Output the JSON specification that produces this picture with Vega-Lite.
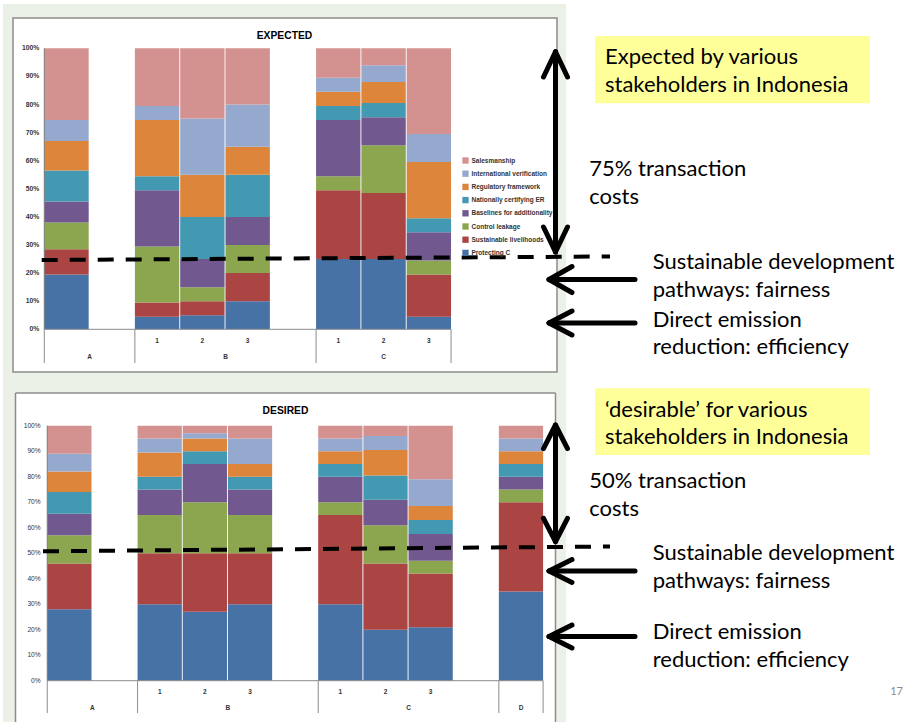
{
  "$schema": "https://vega.github.io/schema/vega-lite/v6.json",
  "width": 905,
  "height": 722,
  "autosize": {"type": "none"},
  "padding": 0,
  "background": "white",
  "config": {"view": {"stroke": null}, "text": {"font": "Lato"}},
  "datasets": {
    "exp": [
      {"s":"A","k":1,"c":"Protecting C","v":19.5},{"s":"A","k":2,"c":"Sustainable livelihoods","v":9},{"s":"A","k":3,"c":"Control leakage","v":9.5},{"s":"A","k":4,"c":"Baselines for additionality","v":7.5},{"s":"A","k":5,"c":"Nationally certifying ER","v":11},{"s":"A","k":6,"c":"Regulatory framework","v":10.5},{"s":"A","k":7,"c":"International verification","v":7.5},{"s":"A","k":8,"c":"Salesmanship","v":25.5},
      {"s":"B1","k":1,"c":"Protecting C","v":4.5},{"s":"B1","k":2,"c":"Sustainable livelihoods","v":5},{"s":"B1","k":3,"c":"Control leakage","v":20},{"s":"B1","k":4,"c":"Baselines for additionality","v":20},{"s":"B1","k":5,"c":"Nationally certifying ER","v":5},{"s":"B1","k":6,"c":"Regulatory framework","v":20},{"s":"B1","k":7,"c":"International verification","v":5},{"s":"B1","k":8,"c":"Salesmanship","v":20.5},
      {"s":"B2","k":1,"c":"Protecting C","v":5},{"s":"B2","k":2,"c":"Sustainable livelihoods","v":5},{"s":"B2","k":3,"c":"Control leakage","v":5},{"s":"B2","k":4,"c":"Baselines for additionality","v":10},{"s":"B2","k":5,"c":"Nationally certifying ER","v":15},{"s":"B2","k":6,"c":"Regulatory framework","v":15},{"s":"B2","k":7,"c":"International verification","v":20},{"s":"B2","k":8,"c":"Salesmanship","v":25},
      {"s":"B3","k":1,"c":"Protecting C","v":10},{"s":"B3","k":2,"c":"Sustainable livelihoods","v":10},{"s":"B3","k":3,"c":"Control leakage","v":10},{"s":"B3","k":4,"c":"Baselines for additionality","v":10},{"s":"B3","k":5,"c":"Nationally certifying ER","v":15},{"s":"B3","k":6,"c":"Regulatory framework","v":10},{"s":"B3","k":7,"c":"International verification","v":15},{"s":"B3","k":8,"c":"Salesmanship","v":20},
      {"s":"C1","k":1,"c":"Protecting C","v":25},{"s":"C1","k":2,"c":"Sustainable livelihoods","v":24.5},{"s":"C1","k":3,"c":"Control leakage","v":5},{"s":"C1","k":4,"c":"Baselines for additionality","v":20},{"s":"C1","k":5,"c":"Nationally certifying ER","v":5},{"s":"C1","k":6,"c":"Regulatory framework","v":5},{"s":"C1","k":7,"c":"International verification","v":5},{"s":"C1","k":8,"c":"Salesmanship","v":10.5},
      {"s":"C2","k":1,"c":"Protecting C","v":25},{"s":"C2","k":2,"c":"Sustainable livelihoods","v":23.5},{"s":"C2","k":3,"c":"Control leakage","v":17},{"s":"C2","k":4,"c":"Baselines for additionality","v":10},{"s":"C2","k":5,"c":"Nationally certifying ER","v":5},{"s":"C2","k":6,"c":"Regulatory framework","v":7.5},{"s":"C2","k":7,"c":"International verification","v":6},{"s":"C2","k":8,"c":"Salesmanship","v":6},
      {"s":"C3","k":1,"c":"Protecting C","v":4.5},{"s":"C3","k":2,"c":"Sustainable livelihoods","v":15},{"s":"C3","k":3,"c":"Control leakage","v":5},{"s":"C3","k":4,"c":"Baselines for additionality","v":10},{"s":"C3","k":5,"c":"Nationally certifying ER","v":5},{"s":"C3","k":6,"c":"Regulatory framework","v":20},{"s":"C3","k":7,"c":"International verification","v":10},{"s":"C3","k":8,"c":"Salesmanship","v":30.5}
    ],
    "des": [
      {"s":"A","k":1,"c":"Protecting C","v":28},{"s":"A","k":2,"c":"Sustainable livelihoods","v":18},{"s":"A","k":3,"c":"Control leakage","v":11},{"s":"A","k":4,"c":"Baselines for additionality","v":8.5},{"s":"A","k":5,"c":"Nationally certifying ER","v":8.5},{"s":"A","k":6,"c":"Regulatory framework","v":8},{"s":"A","k":7,"c":"International verification","v":7},{"s":"A","k":8,"c":"Salesmanship","v":11},
      {"s":"B1","k":1,"c":"Protecting C","v":30},{"s":"B1","k":2,"c":"Sustainable livelihoods","v":20},{"s":"B1","k":3,"c":"Control leakage","v":15},{"s":"B1","k":4,"c":"Baselines for additionality","v":10},{"s":"B1","k":5,"c":"Nationally certifying ER","v":5},{"s":"B1","k":6,"c":"Regulatory framework","v":9.5},{"s":"B1","k":7,"c":"International verification","v":5.5},{"s":"B1","k":8,"c":"Salesmanship","v":5},
      {"s":"B2","k":1,"c":"Protecting C","v":27},{"s":"B2","k":2,"c":"Sustainable livelihoods","v":23},{"s":"B2","k":3,"c":"Control leakage","v":20},{"s":"B2","k":4,"c":"Baselines for additionality","v":15},{"s":"B2","k":5,"c":"Nationally certifying ER","v":5},{"s":"B2","k":6,"c":"Regulatory framework","v":5},{"s":"B2","k":7,"c":"International verification","v":2},{"s":"B2","k":8,"c":"Salesmanship","v":3},
      {"s":"B3","k":1,"c":"Protecting C","v":30},{"s":"B3","k":2,"c":"Sustainable livelihoods","v":20},{"s":"B3","k":3,"c":"Control leakage","v":15},{"s":"B3","k":4,"c":"Baselines for additionality","v":10},{"s":"B3","k":5,"c":"Nationally certifying ER","v":5},{"s":"B3","k":6,"c":"Regulatory framework","v":5},{"s":"B3","k":7,"c":"International verification","v":10},{"s":"B3","k":8,"c":"Salesmanship","v":5},
      {"s":"C1","k":1,"c":"Protecting C","v":30},{"s":"C1","k":2,"c":"Sustainable livelihoods","v":35},{"s":"C1","k":3,"c":"Control leakage","v":5},{"s":"C1","k":4,"c":"Baselines for additionality","v":10},{"s":"C1","k":5,"c":"Nationally certifying ER","v":5},{"s":"C1","k":6,"c":"Regulatory framework","v":5},{"s":"C1","k":7,"c":"International verification","v":5},{"s":"C1","k":8,"c":"Salesmanship","v":5},
      {"s":"C2","k":1,"c":"Protecting C","v":20},{"s":"C2","k":2,"c":"Sustainable livelihoods","v":26},{"s":"C2","k":3,"c":"Control leakage","v":15},{"s":"C2","k":4,"c":"Baselines for additionality","v":10},{"s":"C2","k":5,"c":"Nationally certifying ER","v":9.5},{"s":"C2","k":6,"c":"Regulatory framework","v":10},{"s":"C2","k":7,"c":"International verification","v":5.5},{"s":"C2","k":8,"c":"Salesmanship","v":4},
      {"s":"C3","k":1,"c":"Protecting C","v":21},{"s":"C3","k":2,"c":"Sustainable livelihoods","v":21},{"s":"C3","k":3,"c":"Control leakage","v":5},{"s":"C3","k":4,"c":"Baselines for additionality","v":10.5},{"s":"C3","k":5,"c":"Nationally certifying ER","v":5.5},{"s":"C3","k":6,"c":"Regulatory framework","v":5.5},{"s":"C3","k":7,"c":"International verification","v":10.5},{"s":"C3","k":8,"c":"Salesmanship","v":21},
      {"s":"D","k":1,"c":"Protecting C","v":35},{"s":"D","k":2,"c":"Sustainable livelihoods","v":35},{"s":"D","k":3,"c":"Control leakage","v":5},{"s":"D","k":4,"c":"Baselines for additionality","v":5},{"s":"D","k":5,"c":"Nationally certifying ER","v":5},{"s":"D","k":6,"c":"Regulatory framework","v":5},{"s":"D","k":7,"c":"International verification","v":5},{"s":"D","k":8,"c":"Salesmanship","v":5}
    ],
    "ticks": [
      {"p":0,"t":"0%"},{"p":10,"t":"10%"},{"p":20,"t":"20%"},{"p":30,"t":"30%"},{"p":40,"t":"40%"},{"p":50,"t":"50%"},{"p":60,"t":"60%"},{"p":70,"t":"70%"},{"p":80,"t":"80%"},{"p":90,"t":"90%"},{"p":100,"t":"100%"}
    ],
    "subs": [
      {"s":"B1","t":"1"},{"s":"B2","t":"2"},{"s":"B3","t":"3"},{"s":"C1","t":"1"},{"s":"C2","t":"2"},{"s":"C3","t":"3"}
    ]
  },
  "resolve": {"scale": {"x": "independent", "y": "independent"}, "axis": {"x": "independent", "y": "independent"}},
  "layer": [
    {
      "data": {"values": [{}]},
      "layer": [
        {"mark": {"type": "rect", "fill": "#ECF1E7", "strokeWidth": 0},
         "encoding": {"x": {"datum": 0.00331, "type": "quantitative", "scale": {"domain": [0, 1], "nice": false, "zero": false}, "axis": null}, "x2": {"datum": 0.62541},
                      "y": {"datum": 115.77, "type": "quantitative", "scale": {"domain": [-139.751, 117.189], "nice": false, "zero": false}, "axis": null}, "y2": {"datum": -139.751}}},
        {"mark": {"type": "rect", "fill": "white", "stroke": "#8c8c8c", "strokeWidth": 1.5},
         "encoding": {"x": {"datum": 0.01436, "type": "quantitative", "scale": {"domain": [0, 1], "nice": false, "zero": false}, "axis": null}, "x2": {"datum": 0.61547},
                      "y": {"datum": 110.78, "type": "quantitative", "scale": {"domain": [-139.751, 117.189], "nice": false, "zero": false}, "axis": null}, "y2": {"datum": -15.2}}},
        {"mark": {"type": "rect", "fill": "white", "strokeWidth": 0},
         "encoding": {"x": {"datum": 0.01713, "type": "quantitative", "scale": {"domain": [0, 1], "nice": false, "zero": false}, "axis": null}, "x2": {"datum": 0.61381},
                      "y": {"datum": -22.67, "type": "quantitative", "scale": {"domain": [-139.751, 117.189], "nice": false, "zero": false}, "axis": null}, "y2": {"datum": -139.751}}},
        {"mark": {"type": "rule", "stroke": "#8c8c8c", "strokeWidth": 1.5},
         "encoding": {"x": {"datum": 0.01713, "type": "quantitative", "scale": {"domain": [0, 1], "nice": false, "zero": false}, "axis": null}, "x2": {"datum": 0.61381},
                      "y": {"datum": -22.67, "type": "quantitative", "scale": {"domain": [-139.751, 117.189], "nice": false, "zero": false}, "axis": null}}},
        {"mark": {"type": "rule", "stroke": "#8c8c8c", "strokeWidth": 1.5},
         "encoding": {"x": {"datum": 0.01713, "type": "quantitative", "scale": {"domain": [0, 1], "nice": false, "zero": false}, "axis": null},
                      "y": {"datum": -22.67, "type": "quantitative", "scale": {"domain": [-139.751, 117.189], "nice": false, "zero": false}, "axis": null}, "y2": {"datum": -139.751}}},
        {"mark": {"type": "rule", "stroke": "#8c8c8c", "strokeWidth": 1.5},
         "encoding": {"x": {"datum": 0.61381, "type": "quantitative", "scale": {"domain": [0, 1], "nice": false, "zero": false}, "axis": null},
                      "y": {"datum": -22.67, "type": "quantitative", "scale": {"domain": [-139.751, 117.189], "nice": false, "zero": false}, "axis": null}, "y2": {"datum": -139.751}}}
      ]
    },
    {
      "data": {"values": [{}]},
      "layer": [
        {"data": {"name": "exp"},
         "mark": {"type": "bar"},
         "encoding": {
           "x": {"field": "s", "type": "nominal", "scale": {"type": "band", "domain": ["A","A-","B1","B2","B3","B-","C1","C2","C3","r01","r02","r03","r04","r05","r06","r07","r08","r09","r10"], "paddingInner": 0.02, "paddingOuter": 0.5, "align": 0.978}, "axis": null},
           "y": {"field": "v", "type": "quantitative", "stack": "zero", "scale": {"domain": [-139.751, 117.189], "nice": false, "zero": false}, "axis": null},
           "color": {"field": "c", "type": "nominal",
                     "scale": {"domain": ["Salesmanship","International verification","Regulatory framework","Nationally certifying ER","Baselines for additionality","Control leakage","Sustainable livelihoods","Protecting C"],
                               "range": ["#D39290","#95A9CF","#DE853C","#4299B1","#71598F","#8BA64E","#AA4543","#4672A6"]},
                     "legend": {"orient": "none", "legendX": 462, "legendY": 157, "title": null, "symbolType": "square", "symbolSize": 40, "symbolStrokeWidth": 0, "labelFont": "Liberation Sans", "labelFontSize": 6.5, "labelFontWeight": "bold", "labelColor": "#333", "rowPadding": 6.2, "labelOffset": 2.5, "padding": 0}},
           "order": {"field": "k", "type": "quantitative"}
         }},
        {"mark": {"type": "rule", "stroke": "#7a7a7a", "strokeWidth": 1},
         "encoding": {"x": {"datum": "A", "type": "nominal", "bandPosition": 0, "scale": {"type": "band", "domain": ["A","A-","B1","B2","B3","B-","C1","C2","C3","r01","r02","r03","r04","r05","r06","r07","r08","r09","r10"], "paddingInner": 0.02, "paddingOuter": 0.5, "align": 0.978}, "axis": null},
                      "y": {"datum": 0, "type": "quantitative", "scale": {"domain": [-139.751, 117.189], "nice": false, "zero": false}, "axis": null}, "y2": {"datum": 100}}},
        {"mark": {"type": "rule", "stroke": "#8c8c8c", "strokeWidth": 1},
         "encoding": {"x": {"datum": "A", "type": "nominal", "bandPosition": 0, "scale": {"type": "band", "domain": ["A","A-","B1","B2","B3","B-","C1","C2","C3","r01","r02","r03","r04","r05","r06","r07","r08","r09","r10"], "paddingInner": 0.02, "paddingOuter": 0.5, "align": 0.978}, "axis": null},
                      "x2": {"datum": "C3", "bandPosition": 1},
                      "y": {"datum": 0, "type": "quantitative", "scale": {"domain": [-139.751, 117.189], "nice": false, "zero": false}, "axis": null}}},
        {"data": {"values": [{"s": "A"}, {"s": "B1"}, {"s": "C1"}]},
         "mark": {"type": "rule", "stroke": "#8c8c8c", "strokeWidth": 1},
         "encoding": {"x": {"field": "s", "type": "nominal", "bandPosition": 0, "scale": {"type": "band", "domain": ["A","A-","B1","B2","B3","B-","C1","C2","C3","r01","r02","r03","r04","r05","r06","r07","r08","r09","r10"], "paddingInner": 0.02, "paddingOuter": 0.5, "align": 0.978}, "axis": null},
                      "y": {"datum": 0, "type": "quantitative", "scale": {"domain": [-139.751, 117.189], "nice": false, "zero": false}, "axis": null}, "y2": {"datum": -12}}},
        {"mark": {"type": "rule", "stroke": "#8c8c8c", "strokeWidth": 1},
         "encoding": {"x": {"datum": "C3", "type": "nominal", "bandPosition": 1, "scale": {"type": "band", "domain": ["A","A-","B1","B2","B3","B-","C1","C2","C3","r01","r02","r03","r04","r05","r06","r07","r08","r09","r10"], "paddingInner": 0.02, "paddingOuter": 0.5, "align": 0.978}, "axis": null},
                      "y": {"datum": 0, "type": "quantitative", "scale": {"domain": [-139.751, 117.189], "nice": false, "zero": false}, "axis": null}, "y2": {"datum": -12}}},
        {"data": {"name": "ticks"},
         "mark": {"type": "text", "font": "Liberation Sans", "fontSize": 6.8, "fontWeight": "bold", "color": "#333", "baseline": "middle", "align": "right", "dx": -5},
         "encoding": {"text": {"field": "t"}, "x": {"datum": "A", "type": "nominal", "bandPosition": 0, "scale": {"type": "band", "domain": ["A","A-","B1","B2","B3","B-","C1","C2","C3","r01","r02","r03","r04","r05","r06","r07","r08","r09","r10"], "paddingInner": 0.02, "paddingOuter": 0.5, "align": 0.978}, "axis": null},
                      "y": {"field": "p", "type": "quantitative", "scale": {"domain": [-139.751, 117.189], "nice": false, "zero": false}, "axis": null}}},
        {"data": {"name": "subs"},
         "mark": {"type": "text", "font": "Liberation Sans", "fontSize": 6.5, "fontWeight": "bold", "color": "#333", "baseline": "middle", "align": "center"},
         "encoding": {"text": {"field": "t"}, "x": {"field": "s", "type": "nominal", "bandPosition": 0.5, "scale": {"type": "band", "domain": ["A","A-","B1","B2","B3","B-","C1","C2","C3","r01","r02","r03","r04","r05","r06","r07","r08","r09","r10"], "paddingInner": 0.02, "paddingOuter": 0.5, "align": 0.978}, "axis": null},
                      "y": {"datum": -4.06, "type": "quantitative", "scale": {"domain": [-139.751, 117.189], "nice": false, "zero": false}, "axis": null}}},
        {"data": {"values": [{"g": "A", "s": "A-"}, {"g": "B", "s": "B3"}]},
         "mark": {"type": "text", "font": "Liberation Sans", "fontSize": 6.5, "fontWeight": "bold", "color": "#333", "baseline": "middle", "align": "center"},
         "encoding": {"text": {"field": "g"}, "x": {"field": "s", "type": "nominal", "bandPosition": 0, "scale": {"type": "band", "domain": ["A","A-","B1","B2","B3","B-","C1","C2","C3","r01","r02","r03","r04","r05","r06","r07","r08","r09","r10"], "paddingInner": 0.02, "paddingOuter": 0.5, "align": 0.978}, "axis": null},
                      "y": {"datum": -9.75, "type": "quantitative", "scale": {"domain": [-139.751, 117.189], "nice": false, "zero": false}, "axis": null}}},
        {"data": {"values": [{"g": "C", "s": "C2"}]},
         "mark": {"type": "text", "font": "Liberation Sans", "fontSize": 6.5, "fontWeight": "bold", "color": "#333", "baseline": "middle", "align": "center"},
         "encoding": {"text": {"field": "g"}, "x": {"field": "s", "type": "nominal", "bandPosition": 0.5, "scale": {"type": "band", "domain": ["A","A-","B1","B2","B3","B-","C1","C2","C3","r01","r02","r03","r04","r05","r06","r07","r08","r09","r10"], "paddingInner": 0.02, "paddingOuter": 0.5, "align": 0.978}, "axis": null},
                      "y": {"datum": -9.75, "type": "quantitative", "scale": {"domain": [-139.751, 117.189], "nice": false, "zero": false}, "axis": null}}}
      ]
    },
    {
      "data": {"values": [{}]},
      "layer": [
        {"data": {"name": "des"},
         "mark": {"type": "bar"},
         "encoding": {
           "x": {"field": "s", "type": "nominal", "scale": {"type": "band", "domain": ["A","A-","B1","B2","B3","B-","C1","C2","C3","C-","D","r01","r02","r03","r04","r05","r06","r07","r08"], "paddingInner": 0.02, "paddingOuter": 0.53, "align": 0.987}, "axis": null},
           "y": {"field": "v", "type": "quantitative", "stack": "zero", "scale": {"domain": [-16.196, 266.941], "nice": false, "zero": false}, "axis": null},
           "color": {"field": "c", "type": "nominal",
                     "scale": {"domain": ["Salesmanship","International verification","Regulatory framework","Nationally certifying ER","Baselines for additionality","Control leakage","Sustainable livelihoods","Protecting C"],
                               "range": ["#D39290","#95A9CF","#DE853C","#4299B1","#71598F","#8BA64E","#AA4543","#4672A6"]},
                     "legend": {"orient": "none", "legendX": 462, "legendY": 157, "title": null, "symbolType": "square", "symbolSize": 40, "symbolStrokeWidth": 0, "labelFont": "Liberation Sans", "labelFontSize": 6.5, "labelFontWeight": "bold", "labelColor": "#333", "rowPadding": 6.2, "labelOffset": 2.5, "padding": 0}},
           "order": {"field": "k", "type": "quantitative"}
         }},
        {"mark": {"type": "rule", "stroke": "#7a7a7a", "strokeWidth": 1},
         "encoding": {"x": {"datum": "A", "type": "nominal", "bandPosition": 0, "scale": {"type": "band", "domain": ["A","A-","B1","B2","B3","B-","C1","C2","C3","C-","D","r01","r02","r03","r04","r05","r06","r07","r08"], "paddingInner": 0.02, "paddingOuter": 0.53, "align": 0.987}, "axis": null},
                      "y": {"datum": 0, "type": "quantitative", "scale": {"domain": [-16.196, 266.941], "nice": false, "zero": false}, "axis": null}, "y2": {"datum": 100}}},
        {"mark": {"type": "rule", "stroke": "#8c8c8c", "strokeWidth": 1},
         "encoding": {"x": {"datum": "A", "type": "nominal", "bandPosition": 0, "scale": {"type": "band", "domain": ["A","A-","B1","B2","B3","B-","C1","C2","C3","C-","D","r01","r02","r03","r04","r05","r06","r07","r08"], "paddingInner": 0.02, "paddingOuter": 0.53, "align": 0.987}, "axis": null},
                      "x2": {"datum": "D", "bandPosition": 1},
                      "y": {"datum": 0, "type": "quantitative", "scale": {"domain": [-16.196, 266.941], "nice": false, "zero": false}, "axis": null}}},
        {"data": {"values": [{"s": "A"}, {"s": "B1"}, {"s": "C1"}, {"s": "D"}]},
         "mark": {"type": "rule", "stroke": "#8c8c8c", "strokeWidth": 1},
         "encoding": {"x": {"field": "s", "type": "nominal", "bandPosition": 0, "scale": {"type": "band", "domain": ["A","A-","B1","B2","B3","B-","C1","C2","C3","C-","D","r01","r02","r03","r04","r05","r06","r07","r08"], "paddingInner": 0.02, "paddingOuter": 0.53, "align": 0.987}, "axis": null},
                      "y": {"datum": 0, "type": "quantitative", "scale": {"domain": [-16.196, 266.941], "nice": false, "zero": false}, "axis": null}, "y2": {"datum": -12.7}}},
        {"mark": {"type": "rule", "stroke": "#8c8c8c", "strokeWidth": 1},
         "encoding": {"x": {"datum": "D", "type": "nominal", "bandPosition": 1, "scale": {"type": "band", "domain": ["A","A-","B1","B2","B3","B-","C1","C2","C3","C-","D","r01","r02","r03","r04","r05","r06","r07","r08"], "paddingInner": 0.02, "paddingOuter": 0.53, "align": 0.987}, "axis": null},
                      "y": {"datum": 0, "type": "quantitative", "scale": {"domain": [-16.196, 266.941], "nice": false, "zero": false}, "axis": null}, "y2": {"datum": -12.7}}},
        {"data": {"name": "ticks"},
         "mark": {"type": "text", "font": "Liberation Sans", "fontSize": 6.6, "fontWeight": "normal", "color": "#333", "baseline": "middle", "align": "right", "dx": -6.6},
         "encoding": {"text": {"field": "t"}, "x": {"datum": "A", "type": "nominal", "bandPosition": 0, "scale": {"type": "band", "domain": ["A","A-","B1","B2","B3","B-","C1","C2","C3","C-","D","r01","r02","r03","r04","r05","r06","r07","r08"], "paddingInner": 0.02, "paddingOuter": 0.53, "align": 0.987}, "axis": null},
                      "y": {"field": "p", "type": "quantitative", "scale": {"domain": [-16.196, 266.941], "nice": false, "zero": false}, "axis": null}}},
        {"data": {"name": "subs"},
         "mark": {"type": "text", "font": "Liberation Sans", "fontSize": 6.5, "fontWeight": "bold", "color": "#333", "baseline": "middle", "align": "center"},
         "encoding": {"text": {"field": "t"}, "x": {"field": "s", "type": "nominal", "bandPosition": 0.5, "scale": {"type": "band", "domain": ["A","A-","B1","B2","B3","B-","C1","C2","C3","C-","D","r01","r02","r03","r04","r05","r06","r07","r08"], "paddingInner": 0.02, "paddingOuter": 0.53, "align": 0.987}, "axis": null},
                      "y": {"datum": -4.31, "type": "quantitative", "scale": {"domain": [-16.196, 266.941], "nice": false, "zero": false}, "axis": null}}},
        {"data": {"values": [{"g": "A", "s": "A-"}, {"g": "B", "s": "B3"}, {"g": "C", "s": "C3"}]},
         "mark": {"type": "text", "font": "Liberation Sans", "fontSize": 6.5, "fontWeight": "bold", "color": "#333", "baseline": "middle", "align": "center"},
         "encoding": {"text": {"field": "g"}, "x": {"field": "s", "type": "nominal", "bandPosition": 0, "scale": {"type": "band", "domain": ["A","A-","B1","B2","B3","B-","C1","C2","C3","C-","D","r01","r02","r03","r04","r05","r06","r07","r08"], "paddingInner": 0.02, "paddingOuter": 0.53, "align": 0.987}, "axis": null},
                      "y": {"datum": -10.59, "type": "quantitative", "scale": {"domain": [-16.196, 266.941], "nice": false, "zero": false}, "axis": null}}},
        {"data": {"values": [{"g": "D", "s": "D"}]},
         "mark": {"type": "text", "font": "Liberation Sans", "fontSize": 6.5, "fontWeight": "bold", "color": "#333", "baseline": "middle", "align": "center"},
         "encoding": {"text": {"field": "g"}, "x": {"field": "s", "type": "nominal", "bandPosition": 0.5, "scale": {"type": "band", "domain": ["A","A-","B1","B2","B3","B-","C1","C2","C3","C-","D","r01","r02","r03","r04","r05","r06","r07","r08"], "paddingInner": 0.02, "paddingOuter": 0.53, "align": 0.987}, "axis": null},
                      "y": {"datum": -10.59, "type": "quantitative", "scale": {"domain": [-16.196, 266.941], "nice": false, "zero": false}, "axis": null}}}
      ]
    },
    {
      "data": {"values": [{}]},
      "layer": [
        {"mark": {"type": "rect", "fill": "#FFFF99", "strokeWidth": 0},
         "encoding": {"x": {"datum": 0.65746, "type": "quantitative", "scale": {"domain": [0, 1], "nice": false, "zero": false}, "axis": null}, "x2": {"datum": 0.96133},
                      "y": {"datum": 104.38, "type": "quantitative", "scale": {"domain": [-139.751, 117.189], "nice": false, "zero": false}, "axis": null}, "y2": {"datum": 80.43}}},
        {"data": {"values": [{"t": "EXPECTED"}]},
         "mark": {"type": "text", "font": "Liberation Sans", "fontWeight": "bold", "fontSize": 10.3, "align": "center", "baseline": "alphabetic", "color": "black"},
         "encoding": {"text": {"field": "t"}, "x": {"datum": 0.31436, "type": "quantitative", "scale": {"domain": [0, 1], "nice": false, "zero": false}, "axis": null},
                      "y": {"datum": 103.31, "type": "quantitative", "scale": {"domain": [-139.751, 117.189], "nice": false, "zero": false}, "axis": null}}},
        {"data": {"values": [{"t": "Expected by various\nstakeholders in Indonesia"}]},
         "mark": {"type": "text", "font": "Lato", "fontSize": 22, "align": "left", "baseline": "alphabetic", "lineBreak": "\n", "lineHeight": 27.5, "color": "black"},
         "encoding": {"text": {"field": "t"}, "x": {"datum": 0.66851, "type": "quantitative", "scale": {"domain": [0, 1], "nice": false, "zero": false}, "axis": null},
                      "y": {"datum": 94.31, "type": "quantitative", "scale": {"domain": [-139.751, 117.189], "nice": false, "zero": false}, "axis": null}}},
        {"data": {"values": [{"t": "75% transaction\ncosts"}]},
         "mark": {"type": "text", "font": "Lato", "fontSize": 22, "align": "left", "baseline": "alphabetic", "lineBreak": "\n", "lineHeight": 27.5, "color": "black"},
         "encoding": {"text": {"field": "t"}, "x": {"datum": 0.65116, "type": "quantitative", "scale": {"domain": [0, 1], "nice": false, "zero": false}, "axis": null},
                      "y": {"datum": 54.55, "type": "quantitative", "scale": {"domain": [-139.751, 117.189], "nice": false, "zero": false}, "axis": null}}},
        {"data": {"values": [{"t": "Sustainable development\npathways: fairness"}]},
         "mark": {"type": "text", "font": "Lato", "fontSize": 22, "align": "left", "baseline": "alphabetic", "lineBreak": "\n", "lineHeight": 27.5, "color": "black"},
         "encoding": {"text": {"field": "t"}, "x": {"datum": 0.72122, "type": "quantitative", "scale": {"domain": [0, 1], "nice": false, "zero": false}, "axis": null},
                      "y": {"datum": 21.35, "type": "quantitative", "scale": {"domain": [-139.751, 117.189], "nice": false, "zero": false}, "axis": null}}},
        {"data": {"values": [{"t": "Direct emission\nreduction: efficiency"}]},
         "mark": {"type": "text", "font": "Lato", "fontSize": 22, "align": "left", "baseline": "alphabetic", "lineBreak": "\n", "lineHeight": 27.5, "color": "black"},
         "encoding": {"text": {"field": "t"}, "x": {"datum": 0.72122, "type": "quantitative", "scale": {"domain": [0, 1], "nice": false, "zero": false}, "axis": null},
                      "y": {"datum": 0.93, "type": "quantitative", "scale": {"domain": [-139.751, 117.189], "nice": false, "zero": false}, "axis": null}}},
        {"mark": {"type": "rule", "color": "black", "strokeWidth": 4, "strokeDash": [16, 12]},
         "encoding": {"x": {"datum": 0.04608, "type": "quantitative", "scale": {"domain": [0, 1], "nice": false, "zero": false}, "axis": null}, "x2": {"datum": 0.67403},
                      "y": {"datum": 24.66, "type": "quantitative", "scale": {"domain": [-139.751, 117.189], "nice": false, "zero": false}, "axis": null}, "y2": {"datum": 25.91}}},
        {"mark": {"type": "rule", "color": "black", "strokeWidth": 5, "strokeCap": "round"},
         "encoding": {"x": {"datum": 0.61381, "type": "quantitative", "scale": {"domain": [0, 1], "nice": false, "zero": false}, "axis": null},
                      "y": {"datum": 98.5, "type": "quantitative", "scale": {"domain": [-139.751, 117.189], "nice": false, "zero": false}, "axis": null}, "y2": {"datum": 27.8}}},
        {"mark": {"type": "rule", "color": "black", "strokeWidth": 5, "strokeCap": "round"},
         "encoding": {"x": {"datum": 0.60055, "type": "quantitative", "scale": {"domain": [0, 1], "nice": false, "zero": false}, "axis": null}, "x2": {"datum": 0.61381},
                      "y": {"datum": 89.79, "type": "quantitative", "scale": {"domain": [-139.751, 117.189], "nice": false, "zero": false}, "axis": null}, "y2": {"datum": 98.79}}},
        {"mark": {"type": "rule", "color": "black", "strokeWidth": 5, "strokeCap": "round"},
         "encoding": {"x": {"datum": 0.62707, "type": "quantitative", "scale": {"domain": [0, 1], "nice": false, "zero": false}, "axis": null}, "x2": {"datum": 0.61381},
                      "y": {"datum": 89.79, "type": "quantitative", "scale": {"domain": [-139.751, 117.189], "nice": false, "zero": false}, "axis": null}, "y2": {"datum": 98.79}}},
        {"mark": {"type": "rule", "color": "black", "strokeWidth": 5, "strokeCap": "round"},
         "encoding": {"x": {"datum": 0.60055, "type": "quantitative", "scale": {"domain": [0, 1], "nice": false, "zero": false}, "axis": null}, "x2": {"datum": 0.61381},
                      "y": {"datum": 36.41, "type": "quantitative", "scale": {"domain": [-139.751, 117.189], "nice": false, "zero": false}, "axis": null}, "y2": {"datum": 27.51}}},
        {"mark": {"type": "rule", "color": "black", "strokeWidth": 5, "strokeCap": "round"},
         "encoding": {"x": {"datum": 0.62707, "type": "quantitative", "scale": {"domain": [0, 1], "nice": false, "zero": false}, "axis": null}, "x2": {"datum": 0.61381},
                      "y": {"datum": 36.41, "type": "quantitative", "scale": {"domain": [-139.751, 117.189], "nice": false, "zero": false}, "axis": null}, "y2": {"datum": 27.51}}},
        {"mark": {"type": "rule", "color": "black", "strokeWidth": 5, "strokeCap": "round"},
         "encoding": {"x": {"datum": 0.60773, "type": "quantitative", "scale": {"domain": [0, 1], "nice": false, "zero": false}, "axis": null}, "x2": {"datum": 0.70166},
                      "y": {"datum": 17.72, "type": "quantitative", "scale": {"domain": [-139.751, 117.189], "nice": false, "zero": false}, "axis": null}}},
        {"mark": {"type": "rule", "color": "black", "strokeWidth": 5, "strokeCap": "round"},
         "encoding": {"x": {"datum": 0.63204, "type": "quantitative", "scale": {"domain": [0, 1], "nice": false, "zero": false}, "axis": null}, "x2": {"datum": 0.60663},
                      "y": {"datum": 22.35, "type": "quantitative", "scale": {"domain": [-139.751, 117.189], "nice": false, "zero": false}, "axis": null}, "y2": {"datum": 17.72}}},
        {"mark": {"type": "rule", "color": "black", "strokeWidth": 5, "strokeCap": "round"},
         "encoding": {"x": {"datum": 0.63204, "type": "quantitative", "scale": {"domain": [0, 1], "nice": false, "zero": false}, "axis": null}, "x2": {"datum": 0.60663},
                      "y": {"datum": 13.09, "type": "quantitative", "scale": {"domain": [-139.751, 117.189], "nice": false, "zero": false}, "axis": null}, "y2": {"datum": 17.72}}},
        {"mark": {"type": "rule", "color": "black", "strokeWidth": 5, "strokeCap": "round"},
         "encoding": {"x": {"datum": 0.60773, "type": "quantitative", "scale": {"domain": [0, 1], "nice": false, "zero": false}, "axis": null}, "x2": {"datum": 0.70166},
                      "y": {"datum": 2.24, "type": "quantitative", "scale": {"domain": [-139.751, 117.189], "nice": false, "zero": false}, "axis": null}}},
        {"mark": {"type": "rule", "color": "black", "strokeWidth": 5, "strokeCap": "round"},
         "encoding": {"x": {"datum": 0.63204, "type": "quantitative", "scale": {"domain": [0, 1], "nice": false, "zero": false}, "axis": null}, "x2": {"datum": 0.60663},
                      "y": {"datum": 6.51, "type": "quantitative", "scale": {"domain": [-139.751, 117.189], "nice": false, "zero": false}, "axis": null}, "y2": {"datum": 2.24}}},
        {"mark": {"type": "rule", "color": "black", "strokeWidth": 5, "strokeCap": "round"},
         "encoding": {"x": {"datum": 0.63204, "type": "quantitative", "scale": {"domain": [0, 1], "nice": false, "zero": false}, "axis": null}, "x2": {"datum": 0.60663},
                      "y": {"datum": -2.03, "type": "quantitative", "scale": {"domain": [-139.751, 117.189], "nice": false, "zero": false}, "axis": null}, "y2": {"datum": 2.24}}}
      ]
    },
    {
      "data": {"values": [{}]},
      "layer": [
        {"mark": {"type": "rect", "fill": "#FFFF99", "strokeWidth": 0},
         "encoding": {"x": {"datum": 0.65746, "type": "quantitative", "scale": {"domain": [0, 1], "nice": false, "zero": false}, "axis": null}, "x2": {"datum": 0.96133},
                      "y": {"datum": 114.67, "type": "quantitative", "scale": {"domain": [-16.196, 266.941], "nice": false, "zero": false}, "axis": null}, "y2": {"datum": 88.51}}},
        {"data": {"values": [{"t": "DESIRED"}]},
         "mark": {"type": "text", "font": "Liberation Sans", "fontWeight": "bold", "fontSize": 10.3, "align": "center", "baseline": "alphabetic", "color": "black"},
         "encoding": {"text": {"field": "t"}, "x": {"datum": 0.31547, "type": "quantitative", "scale": {"domain": [0, 1], "nice": false, "zero": false}, "axis": null},
                      "y": {"datum": 104.47, "type": "quantitative", "scale": {"domain": [-16.196, 266.941], "nice": false, "zero": false}, "axis": null}}},
        {"data": {"values": [{"t": "‘desirable’ for various\nstakeholders in Indonesia"}]},
         "mark": {"type": "text", "font": "Lato", "fontSize": 22, "align": "left", "baseline": "alphabetic", "lineBreak": "\n", "lineHeight": 27.5, "color": "black"},
         "encoding": {"text": {"field": "t"}, "x": {"datum": 0.66851, "type": "quantitative", "scale": {"domain": [0, 1], "nice": false, "zero": false}, "axis": null},
                      "y": {"datum": 103.53, "type": "quantitative", "scale": {"domain": [-16.196, 266.941], "nice": false, "zero": false}, "axis": null}}},
        {"data": {"values": [{"t": "50% transaction\ncosts"}]},
         "mark": {"type": "text", "font": "Lato", "fontSize": 22, "align": "left", "baseline": "alphabetic", "lineBreak": "\n", "lineHeight": 27.5, "color": "black"},
         "encoding": {"text": {"field": "t"}, "x": {"datum": 0.65116, "type": "quantitative", "scale": {"domain": [0, 1], "nice": false, "zero": false}, "axis": null},
                      "y": {"datum": 75.45, "type": "quantitative", "scale": {"domain": [-16.196, 266.941], "nice": false, "zero": false}, "axis": null}}},
        {"data": {"values": [{"t": "Sustainable development\npathways: fairness"}]},
         "mark": {"type": "text", "font": "Lato", "fontSize": 22, "align": "left", "baseline": "alphabetic", "lineBreak": "\n", "lineHeight": 27.5, "color": "black"},
         "encoding": {"text": {"field": "t"}, "x": {"datum": 0.72122, "type": "quantitative", "scale": {"domain": [0, 1], "nice": false, "zero": false}, "axis": null},
                      "y": {"datum": 47.33, "type": "quantitative", "scale": {"domain": [-16.196, 266.941], "nice": false, "zero": false}, "axis": null}}},
        {"data": {"values": [{"t": "Direct emission\nreduction: efficiency"}]},
         "mark": {"type": "text", "font": "Lato", "fontSize": 22, "align": "left", "baseline": "alphabetic", "lineBreak": "\n", "lineHeight": 27.5, "color": "black"},
         "encoding": {"text": {"field": "t"}, "x": {"datum": 0.72122, "type": "quantitative", "scale": {"domain": [0, 1], "nice": false, "zero": false}, "axis": null},
                      "y": {"datum": 16.24, "type": "quantitative", "scale": {"domain": [-16.196, 266.941], "nice": false, "zero": false}, "axis": null}}},
        {"data": {"values": [{"t": "17"}]},
         "mark": {"type": "text", "font": "Lato", "fontSize": 11, "align": "right", "baseline": "alphabetic", "color": "#8c8c8c"},
         "encoding": {"text": {"field": "t"}, "x": {"datum": 0.99779, "type": "quantitative", "scale": {"domain": [0, 1], "nice": false, "zero": false}, "axis": null},
                      "y": {"datum": -5.61, "type": "quantitative", "scale": {"domain": [-16.196, 266.941], "nice": false, "zero": false}, "axis": null}}},
        {"mark": {"type": "rule", "color": "black", "strokeWidth": 4, "strokeDash": [16, 12]},
         "encoding": {"x": {"datum": 0.04751, "type": "quantitative", "scale": {"domain": [0, 1], "nice": false, "zero": false}, "axis": null}, "x2": {"datum": 0.67403},
                      "y": {"datum": 50.75, "type": "quantitative", "scale": {"domain": [-16.196, 266.941], "nice": false, "zero": false}, "axis": null}, "y2": {"datum": 52.63}}},
        {"mark": {"type": "rule", "color": "black", "strokeWidth": 5, "strokeCap": "round"},
         "encoding": {"x": {"datum": 0.61381, "type": "quantitative", "scale": {"domain": [0, 1], "nice": false, "zero": false}, "axis": null},
                      "y": {"datum": 100.0, "type": "quantitative", "scale": {"domain": [-16.196, 266.941], "nice": false, "zero": false}, "axis": null}, "y2": {"datum": 54.8}}},
        {"mark": {"type": "rule", "color": "black", "strokeWidth": 5, "strokeCap": "round"},
         "encoding": {"x": {"datum": 0.60055, "type": "quantitative", "scale": {"domain": [0, 1], "nice": false, "zero": false}, "axis": null}, "x2": {"datum": 0.61381},
                      "y": {"datum": 91.05, "type": "quantitative", "scale": {"domain": [-16.196, 266.941], "nice": false, "zero": false}, "axis": null}, "y2": {"datum": 100.27}}},
        {"mark": {"type": "rule", "color": "black", "strokeWidth": 5, "strokeCap": "round"},
         "encoding": {"x": {"datum": 0.62707, "type": "quantitative", "scale": {"domain": [0, 1], "nice": false, "zero": false}, "axis": null}, "x2": {"datum": 0.61381},
                      "y": {"datum": 91.05, "type": "quantitative", "scale": {"domain": [-16.196, 266.941], "nice": false, "zero": false}, "axis": null}, "y2": {"datum": 100.27}}},
        {"mark": {"type": "rule", "color": "black", "strokeWidth": 5, "strokeCap": "round"},
         "encoding": {"x": {"datum": 0.60055, "type": "quantitative", "scale": {"domain": [0, 1], "nice": false, "zero": false}, "axis": null}, "x2": {"datum": 0.61381},
                      "y": {"datum": 63.69, "type": "quantitative", "scale": {"domain": [-16.196, 266.941], "nice": false, "zero": false}, "axis": null}, "y2": {"datum": 54.51}}},
        {"mark": {"type": "rule", "color": "black", "strokeWidth": 5, "strokeCap": "round"},
         "encoding": {"x": {"datum": 0.62707, "type": "quantitative", "scale": {"domain": [0, 1], "nice": false, "zero": false}, "axis": null}, "x2": {"datum": 0.61381},
                      "y": {"datum": 63.69, "type": "quantitative", "scale": {"domain": [-16.196, 266.941], "nice": false, "zero": false}, "axis": null}, "y2": {"datum": 54.51}}},
        {"mark": {"type": "rule", "color": "black", "strokeWidth": 5, "strokeCap": "round"},
         "encoding": {"x": {"datum": 0.60773, "type": "quantitative", "scale": {"domain": [0, 1], "nice": false, "zero": false}, "axis": null}, "x2": {"datum": 0.70166},
                      "y": {"datum": 43.02, "type": "quantitative", "scale": {"domain": [-16.196, 266.941], "nice": false, "zero": false}, "axis": null}}},
        {"mark": {"type": "rule", "color": "black", "strokeWidth": 5, "strokeCap": "round"},
         "encoding": {"x": {"datum": 0.63204, "type": "quantitative", "scale": {"domain": [0, 1], "nice": false, "zero": false}, "axis": null}, "x2": {"datum": 0.60663},
                      "y": {"datum": 47.53, "type": "quantitative", "scale": {"domain": [-16.196, 266.941], "nice": false, "zero": false}, "axis": null}, "y2": {"datum": 43.02}}},
        {"mark": {"type": "rule", "color": "black", "strokeWidth": 5, "strokeCap": "round"},
         "encoding": {"x": {"datum": 0.63204, "type": "quantitative", "scale": {"domain": [0, 1], "nice": false, "zero": false}, "axis": null}, "x2": {"datum": 0.60663},
                      "y": {"datum": 38.51, "type": "quantitative", "scale": {"domain": [-16.196, 266.941], "nice": false, "zero": false}, "axis": null}, "y2": {"datum": 43.02}}},
        {"mark": {"type": "rule", "color": "black", "strokeWidth": 5, "strokeCap": "round"},
         "encoding": {"x": {"datum": 0.60773, "type": "quantitative", "scale": {"domain": [0, 1], "nice": false, "zero": false}, "axis": null}, "x2": {"datum": 0.70166},
                      "y": {"datum": 17.33, "type": "quantitative", "scale": {"domain": [-16.196, 266.941], "nice": false, "zero": false}, "axis": null}}},
        {"mark": {"type": "rule", "color": "black", "strokeWidth": 5, "strokeCap": "round"},
         "encoding": {"x": {"datum": 0.63204, "type": "quantitative", "scale": {"domain": [0, 1], "nice": false, "zero": false}, "axis": null}, "x2": {"datum": 0.60663},
                      "y": {"datum": 21.84, "type": "quantitative", "scale": {"domain": [-16.196, 266.941], "nice": false, "zero": false}, "axis": null}, "y2": {"datum": 17.33}}},
        {"mark": {"type": "rule", "color": "black", "strokeWidth": 5, "strokeCap": "round"},
         "encoding": {"x": {"datum": 0.63204, "type": "quantitative", "scale": {"domain": [0, 1], "nice": false, "zero": false}, "axis": null}, "x2": {"datum": 0.60663},
                      "y": {"datum": 12.82, "type": "quantitative", "scale": {"domain": [-16.196, 266.941], "nice": false, "zero": false}, "axis": null}, "y2": {"datum": 17.33}}}
      ]
    }
  ]
}
